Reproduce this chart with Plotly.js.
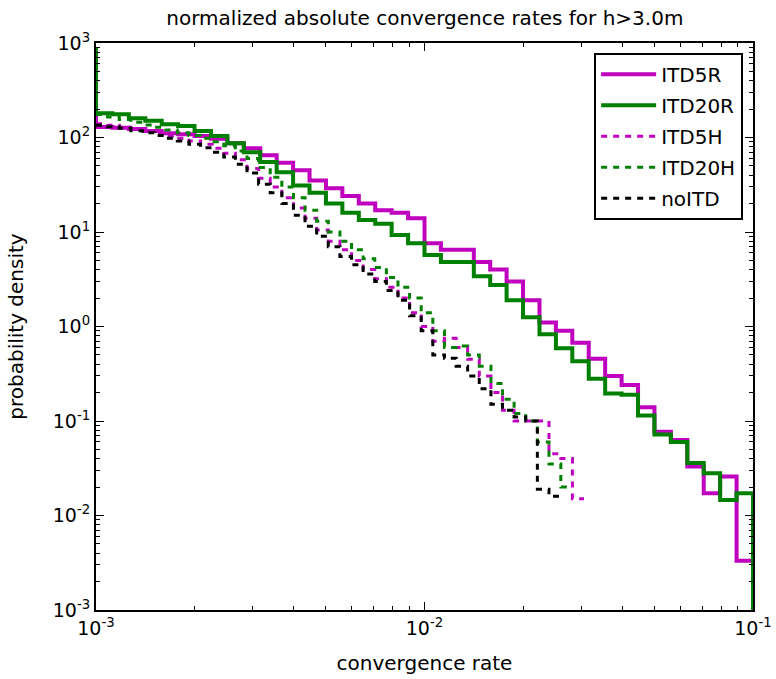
<!DOCTYPE html>
<html>
<head>
<meta charset="utf-8">
<script src="https://cdn.plot.ly/plotly-3.0.1.min.js"></script>
<style>html,body{margin:0;padding:0;background:#fff;}#chart{width:776px;height:679px;}</style>
</head>
<body>
<div id="chart"></div>
<script>
// Bin edges (log-spaced) for the "R" histograms
const edgesR = [0.001, 0.001122, 0.001259, 0.001413, 0.001585, 0.001778, 0.001995, 0.002239, 0.002512, 0.002818,
  0.003162, 0.003548, 0.003981, 0.004467, 0.005012, 0.005623, 0.00631, 0.007079, 0.007943, 0.008913,
  0.01, 0.01122, 0.01259, 0.01413, 0.01585, 0.01778, 0.01995, 0.02239, 0.02512, 0.02818,
  0.03162, 0.03548, 0.03981, 0.04467, 0.05012, 0.05623, 0.0631, 0.07079, 0.07943, 0.08913, 0.1];
// Bin edges for the "H" / noITD histograms
const edgesH = [0.001, 0.001085, 0.001177, 0.001277, 0.001385, 0.001502, 0.00163, 0.001768, 0.001918, 0.002081,
  0.002257, 0.002449, 0.002656, 0.002882, 0.003126, 0.003391, 0.003679, 0.003991, 0.004329, 0.004696,
  0.005095, 0.005527, 0.005996, 0.006504, 0.007056, 0.007654, 0.008303, 0.009008, 0.009772, 0.0106,
  0.0115, 0.01248, 0.01353, 0.01468, 0.01593, 0.01728, 0.01874, 0.02033, 0.02206, 0.02393,
  0.026, 0.0282, 0.03059];
// left-most (off-axis) bin
const spikeEdge = 0.00089;
const spikeITD5R = 600;
const spikeITD20R = 850;

const densITD5R = [129, 127, 123, 117, 111, 108, 104, 97, 87, 77,
  65, 54, 45, 35, 29, 24, 20, 17, 16, 14,
  7.6, 6.5, 6.5, 4.8, 4.0, 3.0, 1.9, 1.1, 0.90, 0.675,
  0.457, 0.30, 0.24, 0.14, 0.077, 0.063, 0.033, 0.0172, 0.0258, 0.00333];
const densITD20R = [181, 176, 160, 150, 138, 132, 117, 104, 87, 70,
  55, 43, 31, 26, 20, 16, 13.4, 12.2, 9.3, 7.6,
  5.7, 4.8, 4.8, 3.4, 2.75, 1.9, 1.25, 0.83, 0.59, 0.43,
  0.28, 0.196, 0.19, 0.114, 0.072, 0.060, 0.036, 0.028, 0.0146, 0.0172];
const densITD5H = [140, 135, 128, 122, 116, 110, 104, 98, 92, 85,
  77, 68, 58, 47, 37, 30, 23, 18, 14, 10.5,
  8, 6.5, 5, 4, 3.2, 2.6, 2.0, 1.4, 1.0, 0.7,
  0.75, 0.6, 0.45, 0.3, 0.2, 0.13, 0.1, 0.1, 0.1, 0.045,
  0.04, 0.015];
const densITD20H = [175, 165, 155, 145, 136, 128, 120, 112, 105, 98,
  90, 82, 72, 60, 48, 38, 30, 23, 17, 13,
  10, 8, 6.5, 5.2, 4.2, 3.3, 2.6, 2.0, 1.4, 0.9,
  0.6, 0.62, 0.5, 0.38, 0.25, 0.17, 0.12, 0.1, 0.06, 0.035,
  0.02];
const densNoITD = [135, 130, 125, 118, 112, 105, 98, 92, 85, 78,
  70, 62, 52, 42, 32, 26, 20, 15, 11.5, 9,
  7, 5.5, 4.5, 3.6, 3.0, 2.4, 1.9, 1.3, 0.9, 0.5,
  0.46, 0.38, 0.3, 0.22, 0.15, 0.13, 0.11, 0.1, 0.019, 0.016];

const names = ['ITD5R', 'ITD20R', 'ITD5H', 'ITD20H', 'noITD'];
const tickValsX = [0.001, 0.01, 0.1];
const tickTextX = ['10<sup>-3</sup>', '10<sup>-2</sup>', '10<sup>-1</sup>'];
const tickValsY = [0.001, 0.01, 0.1, 1, 10, 100, 1000];
const tickTextY = ['10<sup>-3</sup>', '10<sup>-2</sup>', '10<sup>-1</sup>', '10<sup>0</sup>', '10<sup>1</sup>', '10<sup>2</sup>', '10<sup>3</sup>'];
const FLOOR = 1e-6;

function stepXY(edges, vals, spikeX, spikeV, dropToFloor) {
  const x = [], y = [];
  if (spikeX !== undefined) { x.push(spikeX); y.push(spikeV); }
  for (let i = 0; i < vals.length; i++) { x.push(edges[i]); y.push(vals[i]); }
  x.push(edges[vals.length]); y.push(vals[vals.length - 1]);
  if (dropToFloor) { x.push(edges[vals.length]); y.push(FLOOR); }
  return {x, y};
}

const MAG = 'rgb(191,0,191)';
const GRN = 'rgb(0,128,0)';
const specs = [
  {name: names[0], d: stepXY(edgesR, densITD5R, spikeEdge, spikeITD5R, true), color: MAG, width: 4, dash: 'solid'},
  {name: names[1], d: stepXY(edgesR, densITD20R, spikeEdge, spikeITD20R, true), color: GRN, width: 4, dash: 'solid'},
  {name: names[2], d: stepXY(edgesH, densITD5H), color: MAG, width: 3, dash: '6px,6px'},
  {name: names[3], d: stepXY(edgesH, densITD20H), color: GRN, width: 3, dash: '6px,6px'},
  {name: names[4], d: stepXY(edgesH, densNoITD), color: 'black', width: 3, dash: '6px,6px'}
];
const traces = specs.map((s, i) => ({
  type: 'scatter', mode: 'lines', name: s.name, legendgroup: 'g' + i,
  x: s.d.x, y: s.d.y,
  line: {shape: 'hv', color: s.color, width: s.width, dash: s.dash},
  hoverinfo: 'skip'
}));

const FONT = 'DejaVu Sans, sans-serif';
const axisCommon = {
  type: 'log', showgrid: false, zeroline: false,
  showline: true, linecolor: 'black', linewidth: 2, mirror: 'allticks',
  ticks: 'inside', ticklen: 8, tickwidth: 1, tickcolor: 'black',
  tickmode: 'array',
  tickfont: {family: FONT, size: 19, color: 'black'},
  minor: {ticks: 'inside', ticklen: 4, tickwidth: 1, tickcolor: 'black', dtick: 'D1', showgrid: false}
};

const layout = {
  width: 776, height: 679,
  margin: {l: 96, r: 23, t: 43, b: 69},
  paper_bgcolor: 'white', plot_bgcolor: 'white',
  font: {family: FONT, color: 'black'},
  title: {text: 'normalized absolute convergence rates for h>3.0m', font: {family: FONT, size: 20, color: 'black'},
    x: 0.5475, xanchor: 'center', y: 0.974, yanchor: 'middle'},
  xaxis: Object.assign({}, axisCommon, {range: [-3, -1], tickvals: tickValsX, ticktext: tickTextX,
    title: {text: 'convergence rate', font: {family: FONT, size: 20}, standoff: 18}}),
  yaxis: Object.assign({}, axisCommon, {range: [-3, 3], tickvals: tickValsY, ticktext: tickTextY,
    title: {text: 'probability density', font: {family: FONT, size: 20}, standoff: 24}}),
  showlegend: true,
  legend: {x: 0.985, xanchor: 'right', y: 0.983, yanchor: 'top',
    bordercolor: 'black', borderwidth: 2, bgcolor: 'white',
    font: {family: FONT, size: 20, color: 'black'}, tracegroupgap: 2, itemwidth: 55}
};

Plotly.newPlot('chart', traces, layout, {staticPlot: true, displayModeBar: false});
</script>
</body>
</html>
